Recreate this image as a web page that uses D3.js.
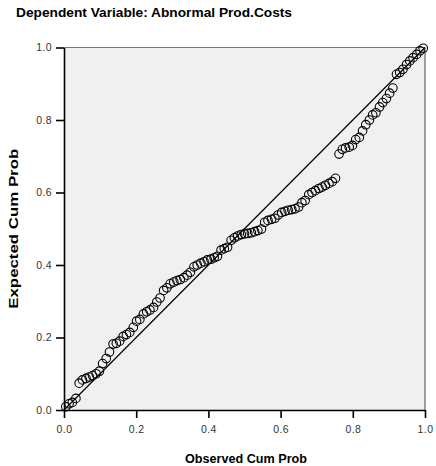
<!DOCTYPE html>
<html>
<head>
<meta charset="utf-8">
<script src="https://cdn.jsdelivr.net/npm/d3@7"></script>
<style>
  html, body { margin: 0; padding: 0; background: #ffffff; }
  svg { display: block; font-family: "Liberation Sans", Arial, sans-serif; }
</style>
</head>
<body>
<div id="chart"></div>
<script>
// Chart texts
const chartTitle = "Dependent Variable: Abnormal Prod.Costs";
const xTitle = "Observed Cum Prob";
const yTitle = "Expected Cum Prob";
const tickValues = [0.0, 0.2, 0.4, 0.6, 0.8, 1.0];

// Observed cumulative probabilities (x)
const observed = [
  0.005, 0.014, 0.023, 0.033, 0.042, 0.051, 0.061, 0.070, 0.079, 0.089,
  0.098, 0.107, 0.117, 0.126, 0.136, 0.145, 0.154, 0.164, 0.173, 0.182,
  0.192, 0.201, 0.210, 0.220, 0.229, 0.238, 0.248, 0.257, 0.266, 0.276,
  0.285, 0.294, 0.304, 0.313, 0.322, 0.332, 0.341, 0.350, 0.360, 0.369,
  0.379, 0.388, 0.397, 0.407, 0.416, 0.425, 0.435, 0.444, 0.453, 0.463,
  0.472, 0.481, 0.491, 0.500, 0.509, 0.519, 0.528, 0.537, 0.547, 0.556,
  0.565, 0.575, 0.584, 0.593, 0.603, 0.612, 0.621, 0.631, 0.640, 0.650,
  0.659, 0.668, 0.678, 0.687, 0.696, 0.706, 0.715, 0.724, 0.734, 0.743,
  0.752, 0.762, 0.771, 0.780, 0.790, 0.799, 0.808, 0.818, 0.827, 0.836,
  0.846, 0.855, 0.864, 0.874, 0.883, 0.893, 0.902, 0.911, 0.921, 0.930,
  0.939, 0.949, 0.958, 0.967, 0.977, 0.986, 0.995
];

// Expected cumulative probabilities (y)
const expected = [
  0.009, 0.017, 0.021, 0.032, 0.074, 0.083, 0.087, 0.091, 0.095, 0.100,
  0.107, 0.128, 0.142, 0.160, 0.182, 0.184, 0.190, 0.203, 0.208, 0.214,
  0.228, 0.245, 0.250, 0.265, 0.271, 0.276, 0.283, 0.298, 0.309, 0.330,
  0.337, 0.348, 0.353, 0.357, 0.360, 0.365, 0.372, 0.380, 0.395, 0.400,
  0.405, 0.409, 0.414, 0.416, 0.420, 0.424, 0.441, 0.445, 0.449, 0.468,
  0.475, 0.480, 0.484, 0.486, 0.487, 0.489, 0.492, 0.495, 0.499, 0.518,
  0.523, 0.526, 0.529, 0.538, 0.545, 0.548, 0.551, 0.553, 0.555, 0.560,
  0.572, 0.578, 0.594, 0.600, 0.605, 0.611, 0.615, 0.620, 0.625, 0.630,
  0.639, 0.706, 0.719, 0.723, 0.725, 0.730, 0.746, 0.752, 0.770, 0.787,
  0.800, 0.814, 0.820, 0.836, 0.848, 0.859, 0.874, 0.888, 0.926, 0.931,
  0.940, 0.953, 0.963, 0.972, 0.981, 0.991, 0.998
];

// Reference line (diagonal)
const refLine = [[0, 0], [1, 1]];

const W = 436, H = 466;
const plot = { left: 64, right: 425, top: 47.5, bottom: 410 };

const svg = d3.select("#chart").append("svg")
  .attr("width", W).attr("height", H);

const x = d3.scaleLinear().domain([0, 1]).range([plot.left, plot.right]);
const y = d3.scaleLinear().domain([0, 1]).range([plot.bottom, plot.top]);

// Plot background and frame
svg.append("rect")
  .attr("x", plot.left).attr("y", plot.top)
  .attr("width", plot.right - plot.left).attr("height", plot.bottom - plot.top)
  .attr("fill", "#f0f0f0");
svg.append("line")
  .attr("x1", plot.left).attr("x2", plot.right)
  .attr("y1", plot.top).attr("y2", plot.top)
  .attr("stroke", "#777").attr("stroke-width", 1);
svg.append("line")
  .attr("x1", plot.right).attr("x2", plot.right)
  .attr("y1", plot.top).attr("y2", plot.bottom)
  .attr("stroke", "#444").attr("stroke-width", 1);

// Axes
const xAxis = d3.axisBottom(x).tickValues(tickValues).tickFormat(d3.format(".1f"))
  .tickSizeInner(8).tickSizeOuter(0).tickPadding(8);
const yAxis = d3.axisLeft(y).tickValues(tickValues).tickFormat(d3.format(".1f"))
  .tickSizeInner(8).tickSizeOuter(0).tickPadding(4);

const gx = svg.append("g").attr("transform", `translate(0,${plot.bottom})`).call(xAxis);
const gy = svg.append("g").attr("transform", `translate(${plot.left},0)`).call(yAxis);
[gx, gy].forEach(g => {
  g.select(".domain").attr("stroke", "#000").attr("stroke-width", 1.6);
  g.selectAll(".tick line").attr("stroke", "#000").attr("stroke-width", 1.6);
  g.selectAll(".tick text")
    .attr("fill", "#333")
    .style("font-family", "'Liberation Sans', Arial, sans-serif")
    .style("font-size", "10.5px")
    .style("letter-spacing", "0.4px");
});

// Diagonal reference line
svg.append("path")
  .datum(refLine)
  .attr("d", d3.line().x(d => x(d[0])).y(d => y(d[1])))
  .attr("fill", "none").attr("stroke", "#000").attr("stroke-width", 1.2);

// Points
svg.append("g").selectAll("circle")
  .data(observed.map((o, i) => [o, expected[i]]))
  .join("circle")
  .attr("cx", d => x(d[0])).attr("cy", d => y(d[1]))
  .attr("r", 4.3)
  .attr("fill", "none").attr("stroke", "#000").attr("stroke-width", 1.1);

// Titles
svg.append("text")
  .attr("x", 16).attr("y", 17)
  .attr("font-size", "13px").attr("font-weight", "bold").attr("fill", "#000")
  .attr("textLength", 276).attr("lengthAdjust", "spacingAndGlyphs")
  .text(chartTitle);

svg.append("text")
  .attr("x", 246).attr("y", 463)
  .attr("text-anchor", "middle")
  .attr("font-size", "12.5px").attr("font-weight", "bold").attr("fill", "#000")
  .attr("textLength", 122).attr("lengthAdjust", "spacingAndGlyphs")
  .text(xTitle);

svg.append("text")
  .attr("transform", `translate(18,${(plot.top + plot.bottom) / 2}) rotate(-90)`)
  .attr("text-anchor", "middle")
  .attr("font-size", "12.5px").attr("font-weight", "bold").attr("fill", "#000")
  .attr("textLength", 160).attr("lengthAdjust", "spacingAndGlyphs")
  .text(yTitle);
</script>
</body>
</html>
